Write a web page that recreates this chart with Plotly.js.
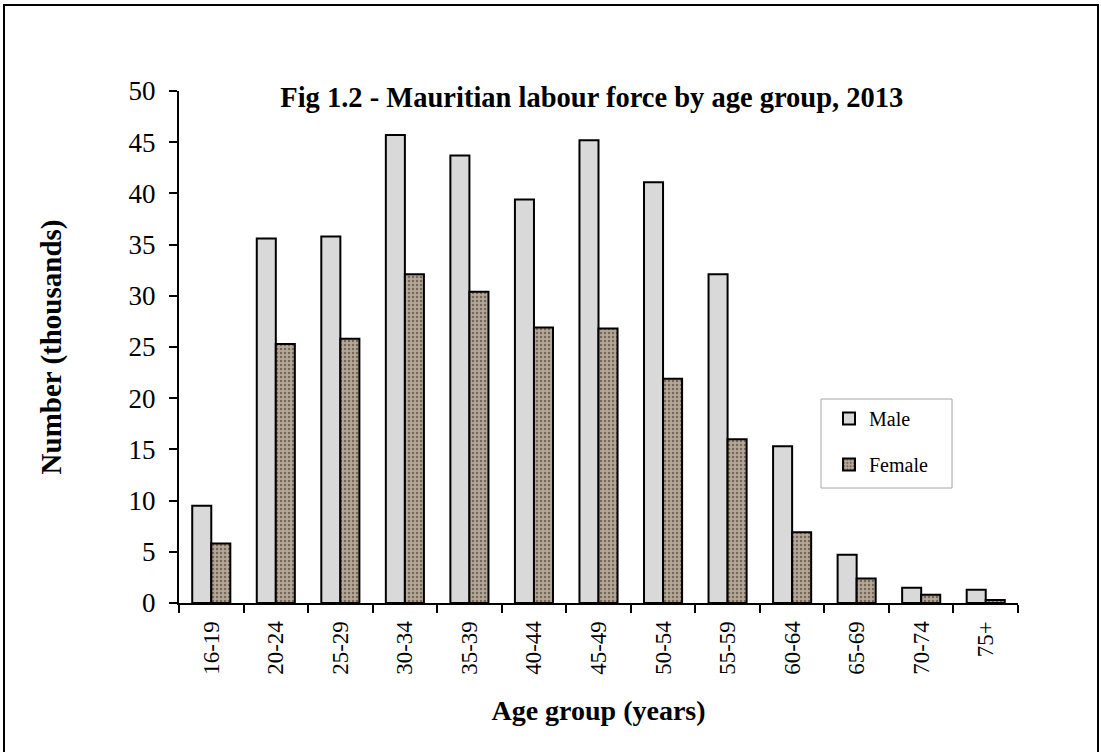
<!DOCTYPE html>
<html>
<head>
<meta charset="utf-8">
<script src="https://cdn.plot.ly/plotly-3.0.1.min.js"></script>
<style>
  html, body { margin: 0; padding: 0; background: #ffffff; }
  #chart { width: 1101px; height: 752px; }
</style>
</head>
<body>
<div id="chart"></div>
<script>
const ageGroups = ["16-19","20-24","25-29","30-34","35-39","40-44","45-49","50-54","55-59","60-64","65-69","70-74","75+"];
const maleValues = [9.5, 35.6, 35.8, 45.7, 43.7, 39.4, 45.2, 41.1, 32.1, 15.3, 4.7, 1.5, 1.3];
const femaleValues = [5.8, 25.3, 25.8, 32.1, 30.4, 26.9, 26.8, 21.9, 16.0, 6.9, 2.4, 0.8, 0.3];
const yTickValues = [0, 5, 10, 15, 20, 25, 30, 35, 40, 45, 50];

const serif = "Liberation Serif, Times New Roman, serif";

const traces = [
  {
    type: "bar",
    name: "Male",
    x: ageGroups,
    y: maleValues,
    legendgroup: "m",
    marker: { color: "#d9d9d9", line: { color: "#000000", width: 2 } },
    hoverinfo: "x+y+name"
  },
  {
    type: "bar",
    name: "Female",
    x: ageGroups,
    y: femaleValues,
    legendgroup: "f",
    marker: {
      color: "#a99c8c",
      line: { color: "#000000", width: 2 },
      pattern: { shape: ".", fgcolor: "#75685a", bgcolor: "#b5a898", size: 4, solidity: 0.3, fillmode: "replace" }
    },
    hoverinfo: "x+y+name"
  }
];

const layout = {
  width: 1101,
  height: 752,
  paper_bgcolor: "#ffffff",
  plot_bgcolor: "#ffffff",
  margin: { l: 179, r: 83, t: 91, b: 149, pad: 0 },
  font: { family: serif, color: "#000000", size: 20 },
  barmode: "group",
  bargap: 0.41,
  bargroupgap: 0,
  showlegend: true,
  title: {
    text: "<b>Fig 1.2 - Mauritian labour force by age group, 2013</b>",
    font: { family: serif, size: 28.5, color: "#000000" },
    xref: "paper", x: 0.492, xanchor: "center",
    yref: "container", y: 0.871, yanchor: "middle"
  },
  xaxis: {
    type: "category",
    showline: true, linecolor: "#000000", linewidth: 2,
    ticks: "outside", tickson: "boundaries", ticklen: 8, tickwidth: 2, tickcolor: "#000000",
    tickangle: -90,
    tickfont: { family: serif, size: 23, color: "#000000" },
    ticklabelstandoff: 7,
    showgrid: false, zeroline: false,
    title: { text: "<b>Age group (years)</b>", font: { family: serif, size: 28 }, standoff: 27 }
  },
  yaxis: {
    range: [0, 50],
    tickvals: yTickValues,
    showline: true, linecolor: "#000000", linewidth: 2,
    ticks: "outside", ticklen: 8, tickwidth: 2, tickcolor: "#000000",
    tickfont: { family: serif, size: 27, color: "#000000" },
    ticklabelstandoff: 8,
    showgrid: false, zeroline: false,
    title: { text: "<b>Number (thousands)</b>", font: { family: serif, size: 29 }, standoff: 58 }
  },
  legend: {
    x: (829 - 179) / 839, xanchor: "left",
    y: (603 - 399) / 512, yanchor: "top",
    bgcolor: "rgba(0,0,0,0)",
    borderwidth: 0,
    font: { family: serif, size: 20, color: "#000000" },
    traceorder: "grouped",
    tracegroupgap: 17,
    itemwidth: 30
  },
  shapes: [
    {
      type: "rect", xref: "paper", yref: "paper",
      x0: (4 - 179) / 839, x1: (1098 - 179) / 839,
      y0: (603 - 760) / 512, y1: (603 - 5) / 512,
      line: { color: "#000000", width: 2 },
      fillcolor: "rgba(0,0,0,0)",
      layer: "below"
    },
    {
      type: "rect", xref: "paper", yref: "paper",
      x0: (821 - 179) / 839, x1: (952 - 179) / 839,
      y0: (603 - 488) / 512, y1: (603 - 399) / 512,
      line: { color: "#a6a6a6", width: 1 },
      fillcolor: "rgba(0,0,0,0)",
      layer: "below"
    }
  ]
};

Plotly.newPlot("chart", traces, layout, { displayModeBar: false, responsive: false });
</script>
</body>
</html>
